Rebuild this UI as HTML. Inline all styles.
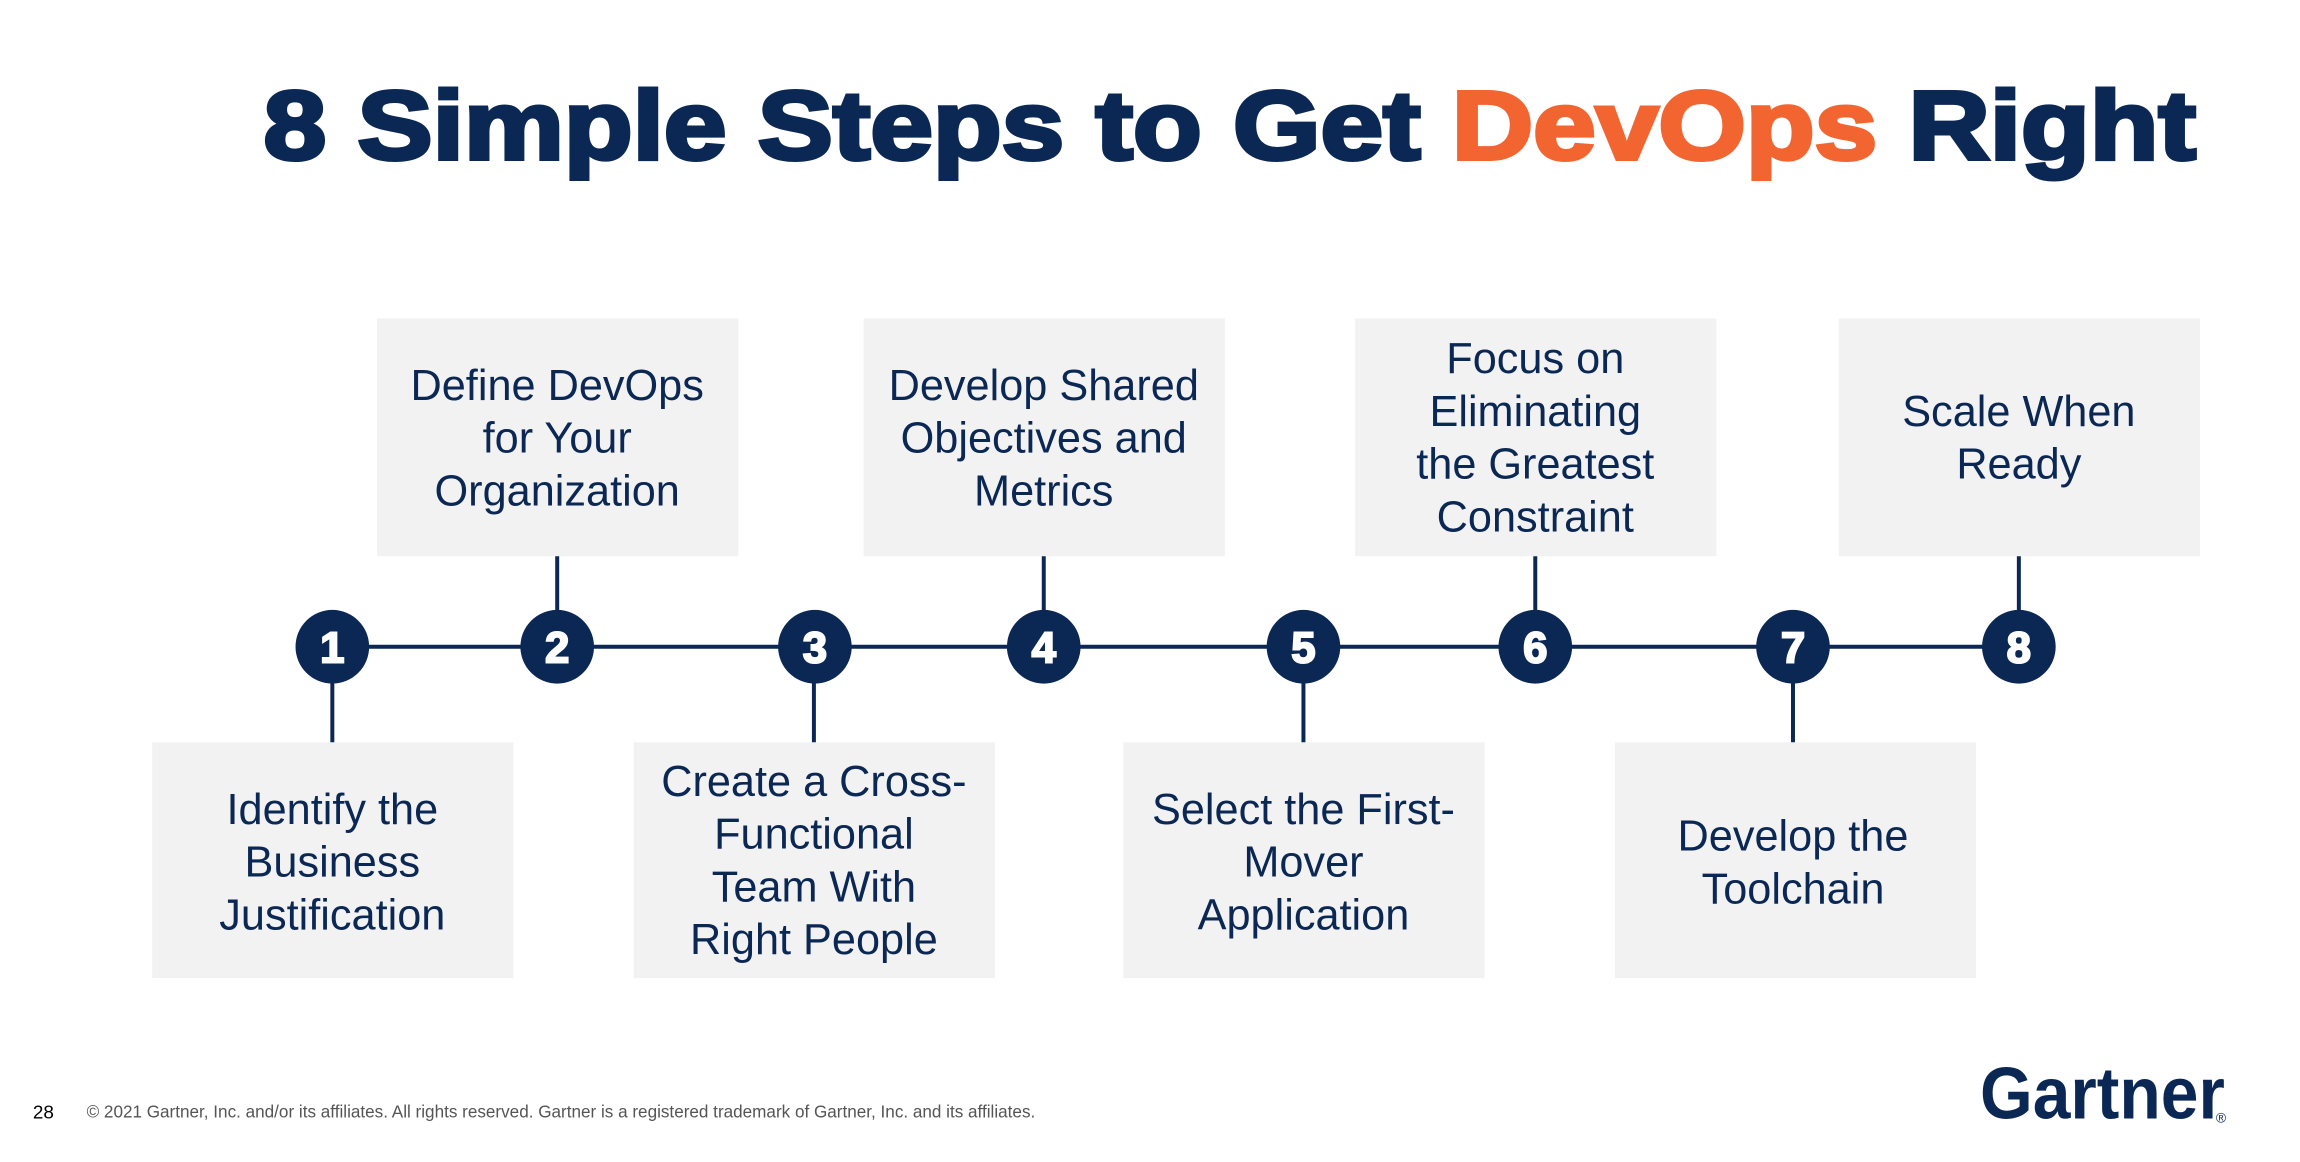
<!DOCTYPE html>
<html><head><meta charset="utf-8"><style>
html,body{margin:0;padding:0;background:#fff;}
svg{display:block;}
text{font-family:"Liberation Sans",Arial,sans-serif;}
</style></head><body>
<svg width="2300" height="1162" viewBox="0 0 2300 1162" xmlns="http://www.w3.org/2000/svg">
<g transform="scale(0.995)">
<text x="265" y="160" font-size="98" font-weight="bold" fill="#0b2855" stroke="#0b2855" stroke-width="4" textLength="1942" lengthAdjust="spacingAndGlyphs">8 Simple Steps to Get <tspan fill="#f26530" stroke="#f26530">DevOps</tspan> Right</text>

<g fill="#f2f2f2">
<rect x="379" y="320" width="363" height="239"/>
<rect x="868" y="320" width="363" height="239"/>
<rect x="1362" y="320" width="363" height="239"/>
<rect x="1848" y="320" width="363" height="239"/>
<rect x="153" y="746" width="363" height="237"/>
<rect x="637" y="746" width="363" height="237"/>
<rect x="1129" y="746" width="363" height="237"/>
<rect x="1623" y="746" width="363" height="237"/>
</g>
<g stroke="#0b2855" stroke-width="4">
<line x1="333" y1="650" x2="2028" y2="650"/>
<line x1="560" y1="559" x2="560" y2="650"/>
<line x1="1049" y1="559" x2="1049" y2="650"/>
<line x1="1543" y1="559" x2="1543" y2="650"/>
<line x1="2029" y1="559" x2="2029" y2="650"/>
<line x1="334" y1="650" x2="334" y2="746"/>
<line x1="818" y1="650" x2="818" y2="746"/>
<line x1="1310" y1="650" x2="1310" y2="746"/>
<line x1="1802" y1="650" x2="1802" y2="746"/>
</g>
<g fill="#0b2855">
<circle cx="334" cy="650" r="37"/><circle cx="560" cy="650" r="37"/>
<circle cx="819" cy="650" r="37"/><circle cx="1049" cy="650" r="37"/>
<circle cx="1310" cy="650" r="37"/><circle cx="1543" cy="650" r="37"/>
<circle cx="1802" cy="650" r="37"/><circle cx="2029" cy="650" r="37"/>
</g>
<g fill="#fff" font-size="44" font-weight="bold" text-anchor="middle" stroke="#fff" stroke-width="2">
<text x="334" y="666">1</text><text x="560" y="666">2</text>
<text x="819" y="666">3</text><text x="1049" y="666">4</text>
<text x="1310" y="666">5</text><text x="1543" y="666">6</text>
<text x="1802" y="666">7</text><text x="2029" y="666">8</text>
</g>
<g fill="#0b2855" font-size="43.5" text-anchor="middle">
<text x="560" y="402">Define DevOps</text>
<text x="560" y="455">for Your</text>
<text x="560" y="508">Organization</text>
<text x="1049" y="402">Develop Shared</text>
<text x="1049" y="455">Objectives and</text>
<text x="1049" y="508">Metrics</text>
<text x="1543" y="375">Focus on</text>
<text x="1543" y="428">Eliminating</text>
<text x="1543" y="481">the Greatest</text>
<text x="1543" y="534">Constraint</text>
<text x="2029" y="428">Scale When</text>
<text x="2029" y="481">Ready</text>
<text x="334" y="828">Identify the</text>
<text x="334" y="881">Business</text>
<text x="334" y="934">Justification</text>
<text x="818" y="800">Create a Cross-</text>
<text x="818" y="853">Functional</text>
<text x="818" y="906">Team With</text>
<text x="818" y="959">Right People</text>
<text x="1310" y="828">Select the First-</text>
<text x="1310" y="881">Mover</text>
<text x="1310" y="934">Application</text>
<text x="1802" y="855">Develop the</text>
<text x="1802" y="908">Toolchain</text>
</g>
<text x="33" y="1124" font-size="19" fill="#000">28</text>
<text x="87" y="1123" font-size="17.2" fill="#555">© 2021 Gartner, Inc. and/or its affiliates. All rights reserved. Gartner is a registered trademark of Gartner, Inc. and its affiliates.</text>
<text x="1990" y="1124" font-size="74" font-weight="bold" fill="#0b2855" textLength="246" lengthAdjust="spacingAndGlyphs">Gartner</text>
<text x="2227" y="1128" font-size="14" fill="#0b2855">®</text>
</g>
</svg>
</body></html>
